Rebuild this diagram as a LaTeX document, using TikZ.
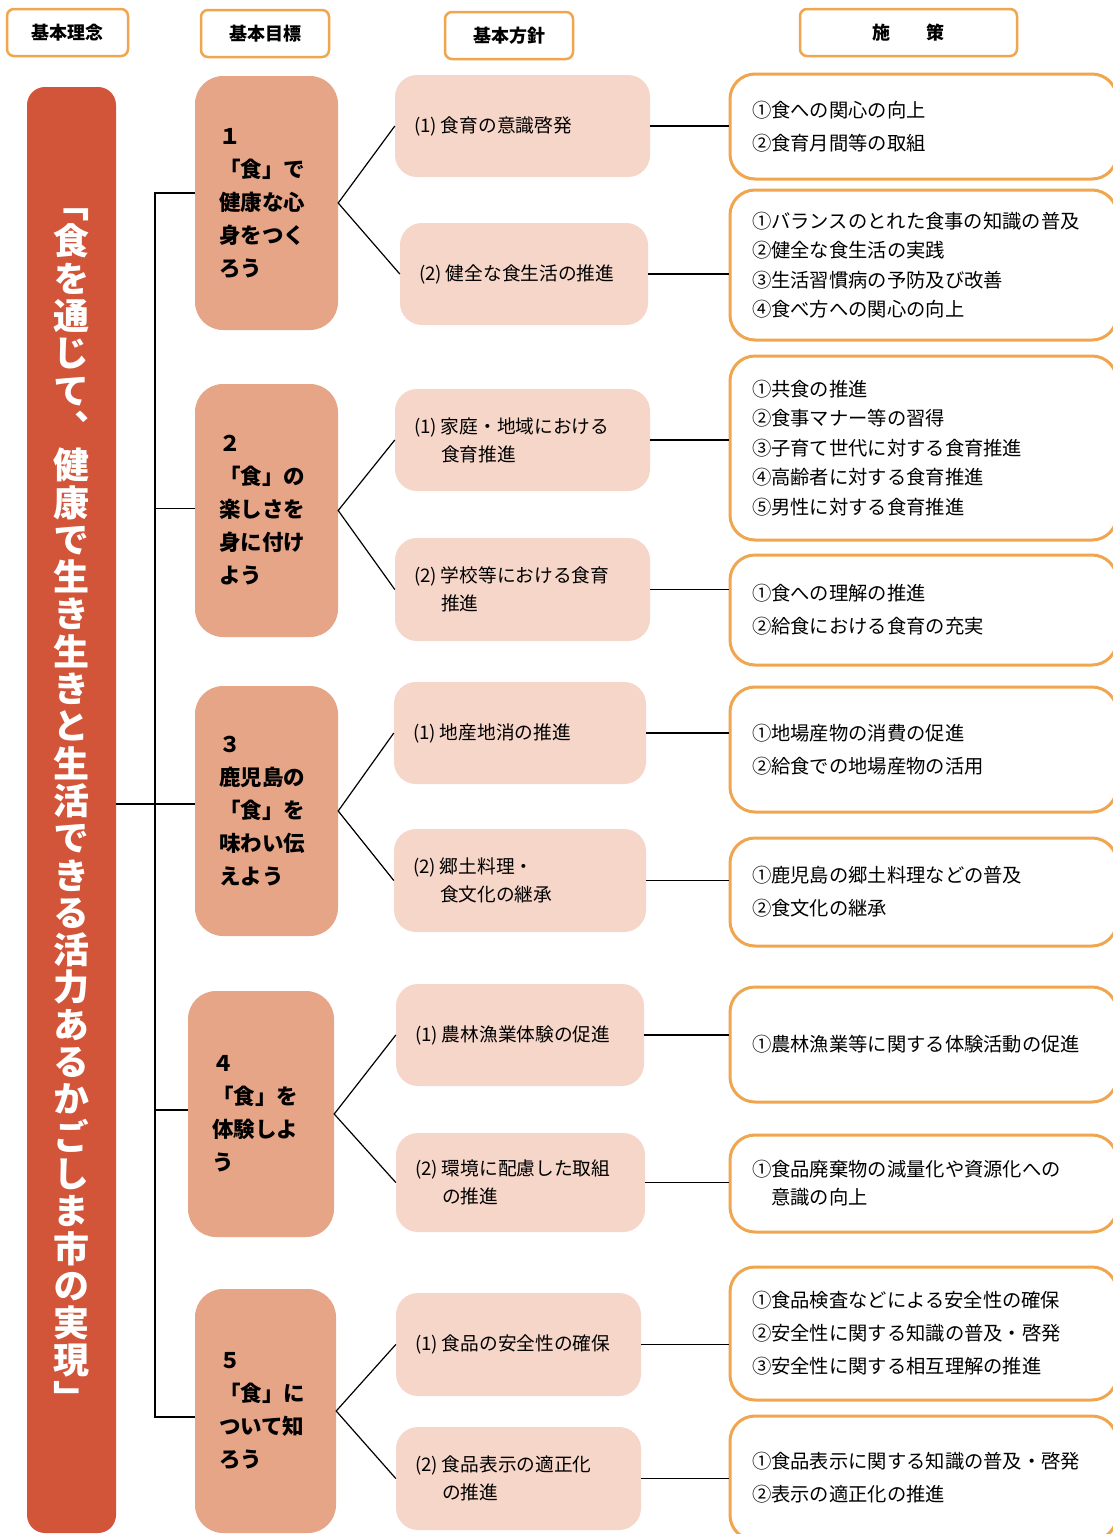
\documentclass[tikz,border=0pt]{standalone}
\usepackage{fontspec}
\setmainfont{Noto Sans CJK JP}
\newfontfamily\jpv{Noto Sans CJK JP}[RawFeature=+vert]
\definecolor{orB}{HTML}{F0A64E}
\definecolor{titC}{HTML}{D2553A}
\definecolor{goalC}{HTML}{E6A587}
\definecolor{polC}{HTML}{F6D6C8}
\newcommand\pn[1]{\makebox[27pt][l]{(#1)}}
\newcommand\pind{\hspace*{27pt}}
\begin{document}
\begin{tikzpicture}[x=1pt,y=-1pt,
  hdr/.style={draw=orB, line width=2.5pt, rounded corners=7pt, fill=white,
    font=\fontsize{18}{20}\selectfont\bfseries, inner sep=0pt, minimum height=47pt},
  goal/.style={fill=goalC, rounded corners=28pt, font=\fontsize{21.5}{33}\selectfont\bfseries,
    align=left, inner xsep=24pt, inner ysep=0pt},
  pol/.style={fill=polC, rounded corners=22pt, font=\fontsize{18.7}{28}\selectfont,
    align=left, inner xsep=19pt, inner ysep=0pt},
  meas/.style={draw=orB, line width=3pt, fill=white, rounded corners=25pt,
    align=left, inner xsep=22pt, inner ysep=0pt, text width=343pt, minimum width=387pt},
  conn/.style={line width=1.2pt, draw=black}]
\useasboundingbox (0,0) rectangle (1113,1534);
\clip (0,0) rectangle (1113,1534);
\fill[white] (0,0) rectangle (1113,1534);

% headers
\node[hdr, minimum width=121pt] (h1) at (67.5,32.5) {基本理念};
\node[hdr, minimum width=128pt] (h2) at (265,33.5) {基本目標};
\node[hdr, minimum width=128pt] (h3) at (509,35.5) {基本方針};
\node[hdr, minimum width=217pt] (h4) at (908.5,32.5) {施　　策};

% title
\node[fill=titC, rounded corners=18pt, minimum width=89pt, minimum height=1446pt,
  text=white, align=center, inner sep=0pt,
  font=\jpv\bfseries\fontsize{36}{37.3}\selectfont] (title) at (71.5,810)
  {「\\食\\を\\通\\じ\\て\\、\\健\\康\\で\\生\\き\\生\\き\\と\\生\\活\\で\\き\\る\\活\\力\\あ\\る\\か\\ご\\し\\ま\\市\\の\\実\\現\\」};

% goals
\node[goal, text width=95pt, minimum width=143pt, minimum height=254pt] (g1) at (266.5,203)
  {１\\「食」で\\健康な心\\身をつく\\ろう};
\node[goal, text width=95pt, minimum width=143pt, minimum height=253pt] (g2) at (266.5,510.5)
  {２\\「食」の\\楽しさを\\身に付け\\よう};
\node[goal, text width=95pt, minimum width=143pt, minimum height=250pt] (g3) at (266.5,811)
  {３\\鹿児島の\\「食」を\\味わい伝\\えよう};
\node[goal, text width=98pt, minimum width=146pt, minimum height=246pt] (g4) at (261,1114)
  {４\\「食」を\\体験しよ\\う};
\node[goal, text width=93pt, minimum width=141pt, minimum height=244pt] (g5) at (265.5,1411)
  {５\\「食」に\\ついて知\\ろう};

% policies
\node[pol, text width=217pt, minimum width=255pt, minimum height=102pt] (p11) at (522.5,126)
  {\pn{1}食育の意識啓発};
\node[pol, text width=210pt, minimum width=248pt, minimum height=102pt] (p12) at (524,274)
  {\pn{2}健全な食生活の推進};
\node[pol, text width=217pt, minimum width=255pt, minimum height=102pt] (p21) at (522.5,440)
  {\pn{1}家庭・地域における\\\pind 食育推進};
\node[pol, text width=217pt, minimum width=255pt, minimum height=103pt] (p22) at (522.5,589.5)
  {\pn{2}学校等における食育\\\pind 推進};
\node[pol, text width=214pt, minimum width=252pt, minimum height=102pt] (p31) at (520,733)
  {\pn{1}地産地消の推進};
\node[pol, text width=214pt, minimum width=252pt, minimum height=103pt] (p32) at (520,880.5)
  {\pn{2}郷土料理・\\\pind 食文化の継承};
\node[pol, text width=210pt, minimum width=248pt, minimum height=102pt] (p41) at (520,1035)
  {\pn{1}農林漁業体験の促進};
\node[pol, text width=211pt, minimum width=249pt, minimum height=99pt] (p42) at (520.5,1182.5)
  {\pn{2}環境に配慮した取組\\\pind の推進};
\node[pol, text width=207pt, minimum width=245pt, minimum height=103pt] (p51) at (518.5,1344.5)
  {\pn{1}食品の安全性の確保};
\node[pol, text width=207pt, minimum width=245pt, minimum height=103pt] (p52) at (518.5,1478.5)
  {\pn{2}食品表示の適正化\\\pind の推進};

% measures
\node[meas, minimum height=105pt, font=\fontsize{19.3}{33}\selectfont] (m1) at (923.5,126.5)
  {①食への関心の向上\\②食育月間等の取組};
\node[meas, minimum height=150pt, font=\fontsize{19.3}{29.5}\selectfont] (m2) at (923.5,265)
  {①バランスのとれた食事の知識の普及\\②健全な食生活の実践\\③生活習慣病の予防及び改善\\④食べ方への関心の向上};
\node[meas, minimum height=184pt, font=\fontsize{19.3}{29.5}\selectfont] (m3) at (923.5,448)
  {①共食の推進\\②食事マナー等の習得\\③子育て世代に対する食育推進\\④高齢者に対する食育推進\\⑤男性に対する食育推進};
\node[meas, minimum height=110pt, font=\fontsize{19.3}{33}\selectfont] (m4) at (923.5,610)
  {①食への理解の推進\\②給食における食育の充実};
\node[meas, minimum height=125pt, font=\fontsize{19.3}{33}\selectfont] (m5) at (923.5,749.5)
  {①地場産物の消費の促進\\②給食での地場産物の活用};
\node[meas, minimum height=108pt, font=\fontsize{19.3}{33}\selectfont] (m6) at (923.5,892)
  {①鹿児島の郷土料理などの普及\\②食文化の継承};
\node[meas, minimum height=115pt, font=\fontsize{19.3}{33}\selectfont] (m7) at (923.5,1044.5)
  {①農林漁業等に関する体験活動の促進};
\node[meas, minimum height=97pt, font=\fontsize{19.3}{28}\selectfont] (m8) at (923.5,1183.5)
  {①食品廃棄物の減量化や資源化への\\\hspace*{19.3pt}意識の向上};
\node[meas, minimum height=133pt, font=\fontsize{19.3}{33}\selectfont] (m9) at (923.5,1333.5)
  {①食品検査などによる安全性の確保\\②安全性に関する知識の普及・啓発\\③安全性に関する相互理解の推進};
\node[meas, minimum height=124pt, font=\fontsize{19.3}{33}\selectfont] (m10) at (923.5,1478)
  {①食品表示に関する知識の普及・啓発\\②表示の適正化の推進};

% bracket
\coordinate (sp) at (155,0);
\draw[conn] ([yshift=10pt]g1.west) -- ([yshift=10pt]g1.west -| sp) -- ([yshift=-6pt]g5.west -| sp) -- ([yshift=-6pt]g5.west);
\draw[conn] ([yshift=2pt]g2.west -| sp) -- ([yshift=2pt]g2.west);
\draw[conn] ([yshift=4pt]g4.west -| sp) -- ([yshift=4pt]g4.west);
\draw[conn] ([yshift=7pt]g3.west) -- ([yshift=7pt]g3.west -| title.east);

% goal -> policy
\foreach \g/\a/\b in {g1/p11/p12, g2/p21/p22, g3/p31/p32, g4/p41/p42, g5/p51/p52}{
  \draw[conn] (\a.west) -- (\g.east) -- (\b.west);
}
% policy -> measure
\foreach \p/\m in {p11/m1, p12/m2, p21/m3, p22/m4, p31/m5, p32/m6, p41/m7, p42/m8, p51/m9, p52/m10}{
  \draw[conn] (\p.east) -- (\p.east -| \m.west);
}
\end{tikzpicture}
\end{document}
